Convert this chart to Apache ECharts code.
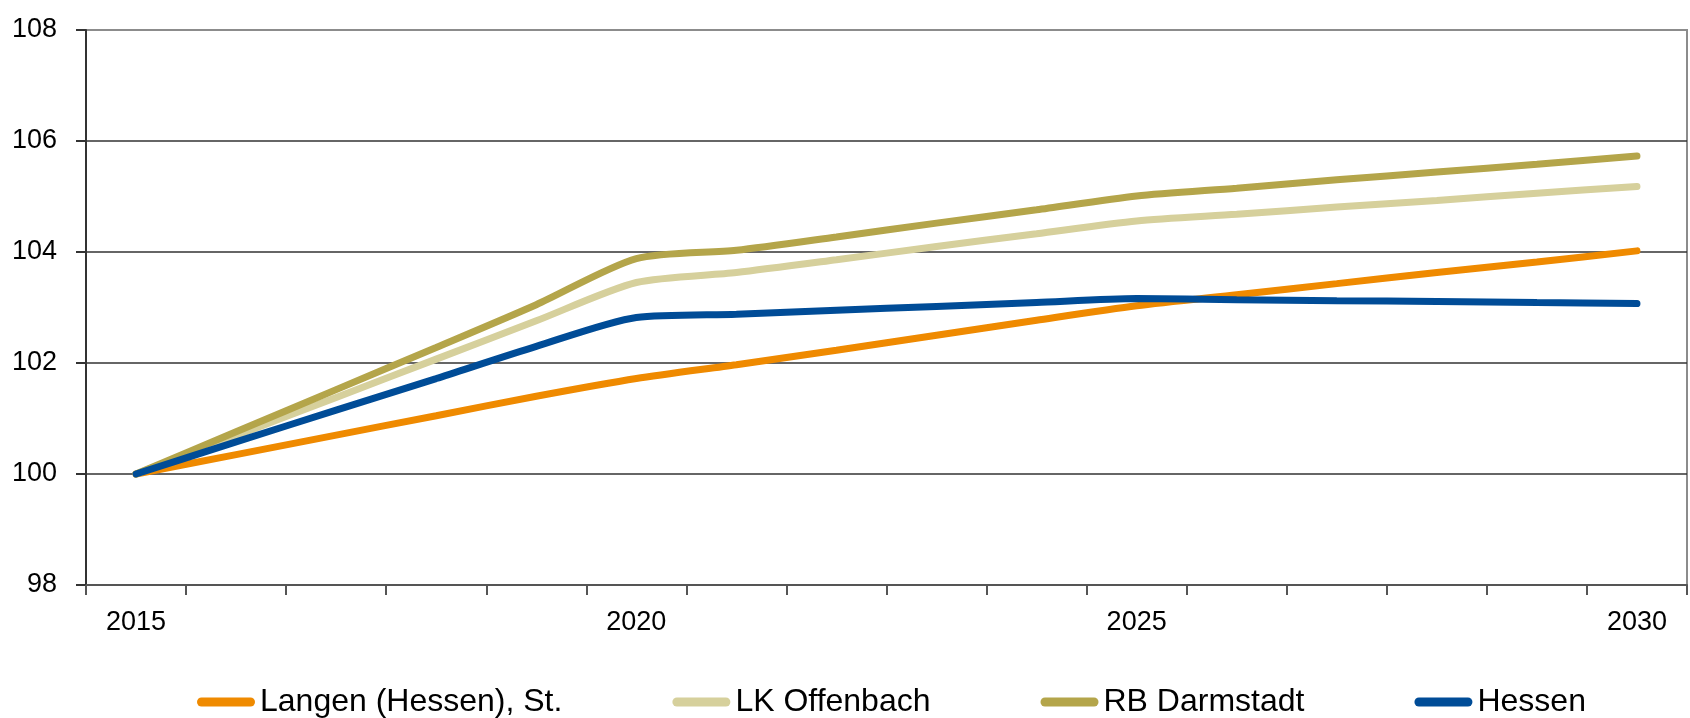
<!DOCTYPE html>
<html>
<head>
<meta charset="utf-8">
<script src="https://cdn.jsdelivr.net/npm/echarts@6/dist/echarts.min.js"></script>
<style>
  html, body { margin: 0; padding: 0; background: #fff; }
  #bevoelkerung { width: 1690px; height: 718px; }
</style>
</head>
<body>
<div id="bevoelkerung"></div>
<script>
// Jahre (Index 2015 = 100)
const years = ["2015", "2016", "2017", "2018", "2019", "2020", "2021", "2022",
  "2023", "2024", "2025", "2026", "2027", "2028", "2029", "2030"];

const langen = [100, 100.35, 100.7, 101.05, 101.4, 101.72, 101.97, 102.23,
  102.5, 102.77, 103.03, 103.23, 103.43, 103.63, 103.82, 104.02];
const lkOffenbach = [100, 100.69, 101.38, 102.07, 102.76, 103.45, 103.63, 103.86,
  104.1, 104.33, 104.56, 104.68, 104.81, 104.93, 105.06, 105.18];
const rbDarmstadt = [100, 100.76, 101.52, 102.28, 103.05, 103.88, 104.03, 104.27,
  104.52, 104.76, 105.01, 105.15, 105.3, 105.44, 105.58, 105.73];
const hessen = [100, 100.58, 101.15, 101.72, 102.3, 102.82, 102.88, 102.95,
  103.02, 103.09, 103.16, 103.14, 103.12, 103.11, 103.09, 103.07];

const seriesNames = ["Langen (Hessen), St.", "LK Offenbach", "RB Darmstadt", "Hessen"];
const seriesColors = ["#EF8A00", "#D6D09C", "#B4A54A", "#004C97"];

// keine schmale Schrift installiert -> Liberation Sans (Arial-Metrik)
const fontName = "Liberation Sans, Arial, sans-serif";

const chart = echarts.init(document.getElementById("bevoelkerung"));

// eine Linie je Gebiet
const makeLine = (name, data, color) => ({
  name: name,
  type: "line",
  data: data,
  smooth: 0.25,
  symbol: "none",
  lineStyle: { width: 7, color: color, cap: "round" },
  itemStyle: { color: color },
});

const option = {
  animation: false,
  grid: {
    left: 86,
    right: 3,
    top: 30,
    bottom: 133,
    show: true,
    borderColor: "#8c8c8c",
    borderWidth: 2,
  },
  legend: {
    left: 192,
    top: 681,
    width: 1480,
    itemWidth: 58,
    itemHeight: 9,
    itemGap: 110,
    icon: "path://M4.5,0 H53.5 A4.5,4.5 0 0 1 53.5,9 H4.5 A4.5,4.5 0 0 1 4.5,0 Z",
    textStyle: {
      fontFamily: fontName,
      fontSize: 32,
      color: "#000",
    },
    data: seriesNames,
  },
  xAxis: {
    type: "category",
    data: years,
    boundaryGap: true,
    axisLine: { lineStyle: { color: "#555", width: 2 } },
    axisTick: {
      show: true,
      interval: 0,
      length: 10,
      lineStyle: { color: "#555", width: 2 },
    },
    axisLabel: {
      interval: 4,
      margin: 24,
      fontFamily: fontName,
      fontSize: 27,
      color: "#000",
    },
    splitLine: { show: false },
  },
  yAxis: {
    type: "value",
    min: 98,
    max: 108,
    interval: 2,
    axisLine: { show: true, lineStyle: { color: "#333", width: 2 } },
    axisTick: { show: true, length: 10, lineStyle: { color: "#333", width: 2 } },
    axisLabel: {
      margin: 29,
      fontFamily: fontName,
      fontSize: 27,
      color: "#000",
    },
    splitLine: {
      show: true,
      lineStyle: {
        color: ["#555", "#333", "#333", "#333", "#333", "#8c8c8c"],
        width: 1.5,
      },
    },
  },
  series: [
    makeLine(seriesNames[0], langen, seriesColors[0]),
    makeLine(seriesNames[1], lkOffenbach, seriesColors[1]),
    makeLine(seriesNames[2], rbDarmstadt, seriesColors[2]),
    makeLine(seriesNames[3], hessen, seriesColors[3]),
  ],
};

chart.setOption(option);

window.addEventListener("resize", () => {
  chart.resize();
});
</script>
</body>
</html>
